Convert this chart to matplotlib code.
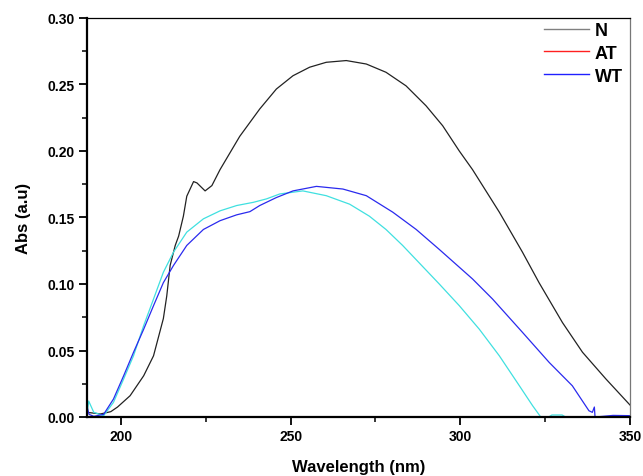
import matplotlib
matplotlib.use("Agg")
import matplotlib.pyplot as plt
from matplotlib.lines import Line2D
from matplotlib.ticker import MultipleLocator

plt.rcParams['font.family'] = ['Liberation Sans', 'DejaVu Sans']

# ---- data ----
n_wl = [190, 194, 197, 199, 202.7, 206.7, 209.6, 212.5, 213.5, 214.5, 216, 217, 218.4, 219.4,
        221.4, 222.4, 224.8, 226.8, 229.2, 235, 240.9, 245.8, 250.7, 255.6, 260.5, 266.4,
        272.3, 278.1, 284, 289.9, 294.8, 299.7, 303.6, 311.5, 318.3, 323.2, 330.1, 336,
        342.9, 350]
n_abs = [0.0035, 0.0023, 0.004, 0.0075, 0.016, 0.031, 0.046, 0.074, 0.091, 0.114, 0.129, 0.136,
         0.151, 0.166, 0.177, 0.176, 0.170, 0.174, 0.186, 0.211, 0.2316, 0.2466, 0.2566, 0.263,
         0.2667, 0.268, 0.2654, 0.2592, 0.249, 0.234, 0.219, 0.200, 0.186, 0.154, 0.124, 0.101,
         0.071, 0.0487, 0.0286, 0.009]

at_wl = [190, 190.5, 191.2, 192, 194.9, 197.8, 200.8, 203.7, 206.7, 209.6, 212.5, 215.5, 219.4,
         224.3, 229.2, 234.1, 239, 242.9, 246.8, 253.6, 260.5, 267.4, 273.2, 278.1, 283, 293.8,
         299.7, 305.6, 311.5, 317.4, 321.3, 323.7, 326, 327, 330, 331, 350]
at_abs = [0.002, 0.012, 0.008, 0.0035, 0.001, 0.011, 0.0286, 0.046, 0.0687, 0.0887, 0.1088, 0.124,
          0.139, 0.149, 0.155, 0.159, 0.1614, 0.164, 0.1677, 0.170, 0.1664, 0.160, 0.151, 0.141,
          0.129, 0.100, 0.0837, 0.066, 0.046, 0.0235, 0.0085, 0.0, 0.0, 0.0015, 0.0015, 0.0,
          -0.003]

wt_wl = [190, 190.6, 192, 194.9, 197.8, 200.8, 203.7, 206.7, 209.6, 212.5, 215.5, 219.4, 224.3,
         229.2, 234.1, 238, 240.9, 245.8, 250.7, 257.6, 265.4, 272.3, 280.1, 287, 293.8, 303.6,
         309.5, 318.3, 326.2, 333, 337.9, 338.9, 339.5, 339.7, 342, 345, 350]
wt_abs = [0.008, 0.002, 0.0005, 0.002, 0.0135, 0.031, 0.0486, 0.066, 0.0837, 0.101, 0.114, 0.129,
          0.141, 0.1476, 0.152, 0.1544, 0.159, 0.165, 0.170, 0.1734, 0.1714, 0.1664, 0.154, 0.141,
          0.126, 0.1038, 0.0887, 0.0637, 0.041, 0.0235, 0.0047, 0.0035, 0.0075, 0.0, 0.0005,
          0.0012, 0.001]

labels = ["N", "AT", "WT"]
legend_colors = ["#808080", "#ff2020", "#2020ff"]

# ---- figure ----
fig = plt.figure(figsize=(6.43, 4.77), dpi=100)
ax = fig.add_axes([87/643, 59/477, 543/643, 399/477])

ax.plot(n_wl, n_abs, color="#222222", lw=0.9)
ax.plot(at_wl, at_abs, color="#40e0e0", lw=0.9)
ax.plot(wt_wl, wt_abs, color="#2a2aee", lw=0.9)

ax.set_xlim(190, 350)
ax.set_ylim(0, 0.30)
ax.xaxis.set_major_locator(MultipleLocator(50))
ax.xaxis.set_minor_locator(MultipleLocator(25))
ax.yaxis.set_major_locator(MultipleLocator(0.05))
ax.yaxis.set_minor_locator(MultipleLocator(0.025))
ax.yaxis.set_major_formatter(matplotlib.ticker.FormatStrFormatter('%.2f'))

ax.tick_params(which='major', direction='out', length=6, width=1.3, labelsize=10, pad=3)
ax.tick_params(which='minor', direction='out', length=3.5, width=1.1)
ax.tick_params(top=False, right=False)
for lab in ax.get_xticklabels() + ax.get_yticklabels():
    lab.set_fontweight('bold')

ax.spines['left'].set_linewidth(1.6)
ax.spines['bottom'].set_linewidth(1.6)
ax.spines['top'].set_linewidth(0.9)
ax.spines['right'].set_linewidth(0.9)
ax.spines['right'].set_color('#777777')

ax.set_xlabel("Wavelength (nm)", fontsize=12, fontweight='bold', labelpad=11)
ax.set_ylabel("Abs (a.u)", fontsize=12, fontweight='bold', labelpad=12)

handles = [Line2D([0], [0], color=c, lw=1.0) for c in legend_colors]
leg = ax.legend(handles, labels, loc='upper right', bbox_to_anchor=(1.0, 1.008),
                frameon=False, handlelength=2.5, handletextpad=0.3, labelspacing=0.32,
                borderaxespad=0.0, prop={'weight': 'bold', 'size': 13})

fig.savefig("out.png", dpi=100)
